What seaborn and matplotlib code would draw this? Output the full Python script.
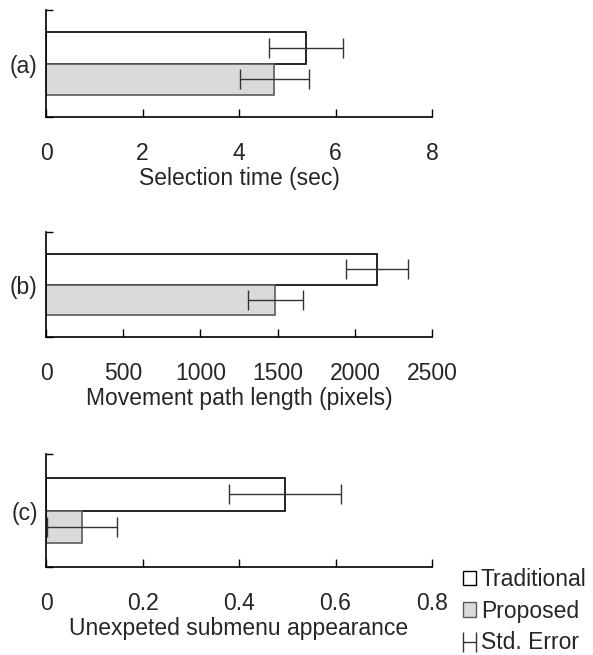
import pandas as pd
import matplotlib
matplotlib.use("Agg")
import matplotlib.pyplot as plt
import seaborn as sns
from matplotlib.patches import Patch
from matplotlib.legend_handler import HandlerErrorbar

# data
panels = ['(a)', '(b)', '(c)']
xlabels = ['Selection time (sec)', 'Movement path length (pixels)', 'Unexpeted submenu appearance']
conditions = ['Traditional', 'Proposed']
traditional_mean = [5.39, 2145, 0.495]
traditional_se = [0.77, 200, 0.116]
proposed_mean = [4.73, 1486, 0.075]
proposed_se = [0.72, 178, 0.073]
xticks = [[0, 2, 4, 6, 8], [0, 500, 1000, 1500, 2000, 2500], [0, 0.2, 0.4, 0.6, 0.8]]
xticklabels = [['0', '2', '4', '6', '8'],
               ['0', '500', '1000', '1500', '2000', '2500'],
               ['0', '0.2', '0.4', '0.6', '0.8']]

sns.set_style('white')
plt.rcParams['font.family'] = ['Liberation Sans', 'DejaVu Sans']
fs = 16.5

colors = {'Traditional': 'white', 'Proposed': '#dadada'}
edges = {'Traditional': 'black', 'Proposed': '#5a5a5a'}

fig = plt.figure(figsize=(5.93, 6.55), dpi=100)
rects = [[0.0776, 0.821, 0.651, 0.164],
         [0.0776, 0.485, 0.651, 0.161],
         [0.0776, 0.134, 0.651, 0.173]]

err_handle = None
for i, label in enumerate(panels):
    ax = fig.add_axes(rects[i])
    df = pd.DataFrame({
        'panel': [label, label],
        'condition': conditions,
        'value': [traditional_mean[i], proposed_mean[i]],
        'se': [traditional_se[i], proposed_se[i]],
    })
    sns.barplot(data=df, x='value', y='panel', hue='condition', hue_order=conditions,
                palette=colors, orient='h', width=0.8, errorbar=None, legend=False, ax=ax)

    # edges and std. error bars on each bar
    for cond, cont in zip(conditions, ax.containers):
        row = df[df['condition'] == cond].iloc[0]
        for bar in cont:
            bar.set_edgecolor(edges[cond])
            bar.set_linewidth(1.2)
            yc = bar.get_y() + bar.get_height() / 2
            err_handle = ax.errorbar(row['value'], yc, xerr=row['se'], fmt='none',
                                     ecolor='#333333', elinewidth=1.0, capsize=7,
                                     capthick=1.0, zorder=5)

    ax.set_xlim(0, xticks[i][-1])
    ax.set_ylim(0.69, -0.69)
    ax.set_xticks(xticks[i])
    ax.set_xticklabels(xticklabels[i])
    ax.set_yticks([0])
    ax.set_yticklabels([label])
    ax.set_yticks([-0.69, 0.69], minor=True)
    ax.tick_params(axis='x', bottom=True, direction='in', length=6, width=1,
                   color='black', pad=17.5, labelsize=fs)
    ax.tick_params(axis='y', which='major', length=0, pad=6, labelsize=fs)
    ax.tick_params(axis='y', which='minor', direction='in', length=5, width=1,
                   color='black', left=True)
    ax.set_xlabel(xlabels[i], fontsize=fs, labelpad=2)
    ax.set_ylabel('')
    sns.despine(ax=ax)
    for s in ['left', 'bottom']:
        ax.spines[s].set_color('black')
        ax.spines[s].set_linewidth(1.2)

handles = [Patch(facecolor='white', edgecolor='black', linewidth=1.0),
           Patch(facecolor='#dadada', edgecolor='#5a5a5a', linewidth=1.0),
           err_handle]
fig.legend(handles, ['Traditional', 'Proposed', 'Std. Error'], loc='upper left',
           bbox_to_anchor=(0.78, 0.133), frameon=False, fontsize=fs,
           handlelength=0.6, handleheight=0.6, handletextpad=0.2, labelspacing=0.38,
           borderaxespad=0, borderpad=0,
           handler_map={type(err_handle): HandlerErrorbar(xerr_size=0.28)})

fig.savefig('out.png', dpi=100)
